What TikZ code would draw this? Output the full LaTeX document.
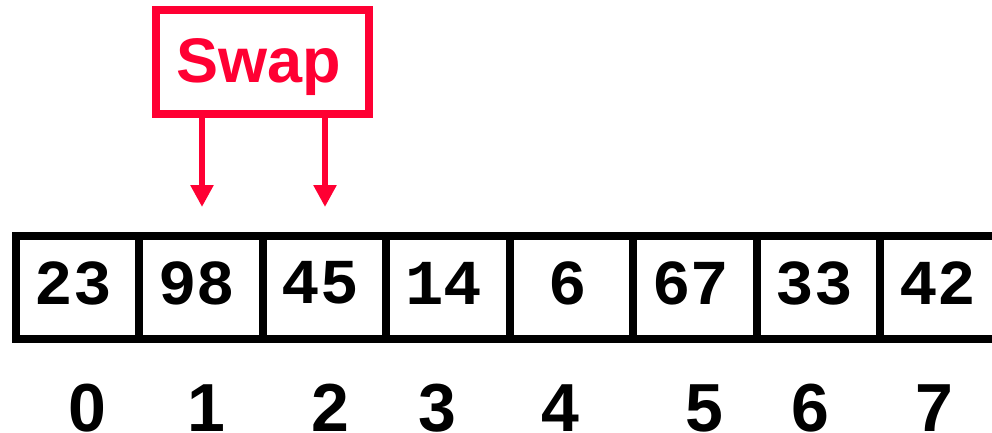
\documentclass[tikz,border=0pt]{standalone}
\usepackage{fontspec}
\usetikzlibrary{arrows.meta}
\newfontfamily\arialf{Liberation Sans}
\newfontfamily\courf{Liberation Mono}
\definecolor{swapred}{RGB}{255,0,51}
\begin{document}
\begin{tikzpicture}[x=1pt,y=-1pt,
  cell/.style={draw=black,line width=8pt,minimum width=123.5pt,minimum height=103pt,inner sep=0pt,outer sep=0pt},
  val/.style={font=\courf\bfseries\fontsize{64}{64}\selectfont,inner sep=0pt},
  idx/.style={font=\arialf\bfseries\fontsize{68}{68}\selectfont,inner sep=0pt},
  swapbox/.style={draw=swapred,line width=8pt,minimum width=213pt,minimum height=104pt,inner sep=0pt,outer sep=0pt},
  swaptxt/.style={text=swapred,font=\arialf\bfseries\fontsize{63}{63}\selectfont,inner sep=0pt},
  arr/.style={draw=swapred,line width=6pt,-{Triangle[width=22pt,length=22pt]}}]
\useasboundingbox (0,0) rectangle (992,432);
% cells
\foreach \v [count=\i from 0] in {23,98,45,14,6,67,33,42}{
  \node[cell] (c\i) at ({77.25+123.5*\i},287.5) {};
  \node[val] (v\i) at ([xshift=-4pt,yshift=4.5pt]c\i.center) {\v};
}
% indices
\node[idx] (i0) at (87,408) {0};
\node[idx] (i1) at (206,408) {1};
\node[idx] (i2) at (330,408) {2};
\node[idx] (i3) at (437,408) {3};
\node[idx] (i4) at (560,408) {4};
\node[idx] (i5) at (704,408) {5};
\node[idx] (i6) at (810,408) {6};
\node[idx] (i7) at (934,408) {7};
% swap box
\node[swapbox] (swap) at (262,62) {};
\node[swaptxt,anchor=base] (swapt) at (258.5,82) {Swap};
\coordinate (a1) at (202,207);
\coordinate (a2) at (325,207);
\draw[arr] (swap.south -| a1) -- (a1);
\draw[arr] (swap.south -| a2) -- (a2);
\end{tikzpicture}
\end{document}
